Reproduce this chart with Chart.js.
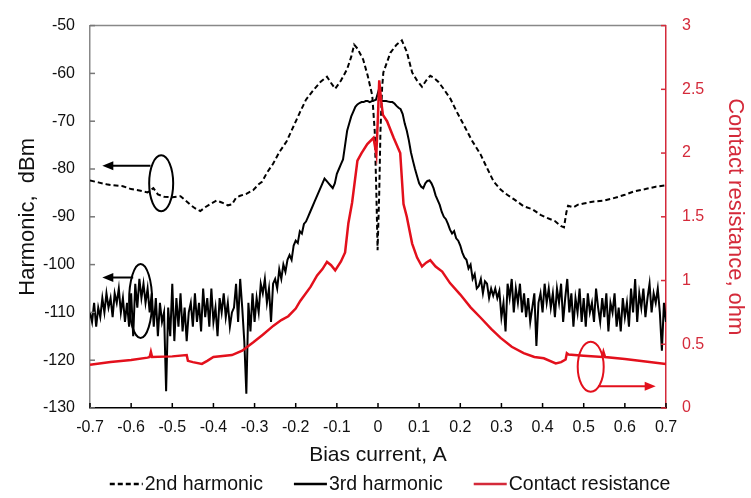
<!DOCTYPE html>
<html>
<head>
<meta charset="utf-8">
<script src="https://cdn.jsdelivr.net/npm/chart.js@4/dist/chart.umd.min.js"></script>
<style>
    html, body { margin: 0; padding: 0; background: #fff; }
    #caja { width: 751px; height: 498px; }
</style>
</head>
<body>
<div id="caja"><canvas id="grafico" width="751" height="498"></canvas></div>
<script>
// ---- DATOS ----
const ticksX = [-0.7, -0.6, -0.5, -0.4, -0.3, -0.2, -0.1, 0, 0.1, 0.2, 0.3, 0.4, 0.5, 0.6, 0.7];
const ticksHarm = [-130, -120, -110, -100, -90, -80, -70, -60, -50];
const ticksRes = [0, 0.5, 1, 1.5, 2, 2.5, 3];

const nombres = ['2nd harmonic', '3rd harmonic', 'Contact resistance'];

// 2o armonico (discontinuo)
const x2 = [-0.70, -0.68, -0.66, -0.644, -0.62, -0.60, -0.58, -0.56, -0.546, -0.535, -0.52, -0.50, -0.48, -0.465,
    -0.456, -0.445, -0.432, -0.42, -0.405, -0.392, -0.38, -0.365, -0.355, -0.345, -0.335, -0.32, -0.303, -0.29,
    -0.282, -0.27, -0.255, -0.24, -0.222, -0.205, -0.189, -0.175, -0.157, -0.14, -0.124, -0.114, -0.104, -0.09,
    -0.075, -0.065, -0.058, -0.05, -0.036, -0.025, -0.014, -0.008, -0.004, -0.001, 0.003, 0.006, 0.01, 0.013,
    0.03, 0.045, 0.058, 0.07, 0.083, 0.095, 0.107, 0.117, 0.127, 0.137, 0.147, 0.16, 0.176, 0.19, 0.208, 0.228,
    0.249, 0.265, 0.281, 0.298, 0.314, 0.33, 0.354, 0.375, 0.395, 0.41, 0.43, 0.444, 0.452, 0.458, 0.462, 0.475,
    0.485, 0.50, 0.525, 0.55, 0.573, 0.60, 0.622, 0.65, 0.675, 0.70];
const y2 = [-82.4, -82.8, -83.2, -83.4, -83.6, -84.2, -84.5, -84.9, -84.0, -85.3, -85.8, -85.9, -85.7, -86.8,
    -87.5, -88.2, -88.8, -88.0, -87.2, -86.6, -87.0, -87.6, -87.4, -86.0, -85.6, -85.2, -84.4, -83.2,
    -82.7, -80.8, -78.9, -76.5, -74.2, -71.0, -68.0, -65.5, -63.5, -61.8, -60.7, -62.0, -63.2, -61.5,
    -59.1, -56.5, -54.0, -54.8, -57.1, -60.5, -64.6, -72, -85, -97, -85, -72, -63, -59.8,
    -55.7, -54.0, -53.1, -55.5, -59.8, -61.5, -62.8, -61.5, -60.5, -61.0, -61.8, -63.3, -65.3, -67.8, -70.7, -74.0,
    -76.9, -79.8, -82.6, -84.3, -85.4, -86.3, -87.8, -88.4, -89.6, -90.2, -90.9, -91.9, -92.2, -89.0, -87.7, -88.0,
    -87.5, -87.2, -86.8, -86.6, -86.1, -85.4, -84.7, -84.2, -83.7, -83.4];

// 3er armonico: barrido de -0.7 A con paso de 5 mA
const inicio3 = -0.7;
const paso3 = 0.005;
const y3 = [
    -110, -112, -108, -113, -109, -111, -107, -110, -106, -109,
    -107, -111, -106, -108, -105, -110, -107, -112, -108, -113,
    -106, -115, -104, -109, -103, -107, -104, -108, -105, -110,
    -106, -113, -107, -115, -108, -112, -110, -126.5, -109, -115,
    -104, -116, -107, -113, -106, -114, -109, -116, -110, -108,
    -113, -106, -112, -108, -114, -105, -111, -107, -113, -105,
    -112, -109, -115, -107, -110, -106, -111, -108, -113, -110,
    -109, -104, -112, -103, -109, -116, -127, -108, -114, -106,
    -112, -107, -110, -104, -106, -103, -108, -105, -112, -104,
    -103, -105, -101, -103, -100, -101.5, -99, -98, -99, -96,
    -95, -95.5, -93, -93.5, -91.5, -91, -90, -89, -88, -87,
    -86, -85, -84, -83, -82, -82.5, -83, -83.5, -84, -83,
    -81, -80, -79, -78, -75, -72, -70.5, -69, -68, -67,
    -66.5, -66.2, -66, -66, -65.8, -65.8, -66, -65.8, -65.7, -65.5,
    -64, -65.5, -65.8, -65.8, -65.8, -65.9, -66, -66, -66.3, -66.8,
    -67.2, -67.5, -68.5, -70.5, -72, -74, -76.5, -78.3, -80, -81.5,
    -83, -83.7, -84, -83, -82.5, -82.4, -83, -84, -85.5, -86.5,
    -87.5, -89, -90, -90.5, -91.5, -92.7, -93.5, -93, -94.5, -95,
    -96, -97.5, -98.5, -99, -100.8, -100, -103, -102, -105, -104.5,
    -103, -106, -103.5, -104, -107, -105, -106.5, -105, -107, -105.5,
    -111, -108, -114, -104, -107, -103, -110, -105, -108, -104,
    -110, -106, -111, -107, -112, -109, -106, -117, -108, -106,
    -110, -104, -108, -105, -109, -106, -111, -105, -108, -104,
    -112, -107, -103, -110, -106, -113, -107, -110, -105, -112,
    -107, -113, -106, -110, -108, -112, -105, -109, -112, -107,
    -111, -106, -114, -108, -110, -106, -113, -109, -114, -107,
    -111, -108, -113, -105, -110, -103, -112, -106, -109, -105,
    -111, -107, -104, -110, -106, -108, -105, -110, -118, -108,
    -112
];

// resistencia de contacto (eje derecho, ohm)
const xR = [-0.70, -0.65, -0.60, -0.56, -0.555, -0.552, -0.549, -0.50, -0.465, -0.462, -0.45, -0.428, -0.415, -0.40,
    -0.355, -0.33, -0.303, -0.28, -0.254, -0.235, -0.218, -0.2, -0.189, -0.164, -0.148, -0.135, -0.124, -0.114,
    -0.104, -0.09, -0.08, -0.072, -0.063, -0.05, -0.04, -0.026, -0.011, -0.004, 0.0, 0.003, 0.008, 0.012, 0.022,
    0.038, 0.054, 0.062, 0.07, 0.083, 0.095, 0.107, 0.117, 0.127, 0.14, 0.156, 0.175, 0.2, 0.225, 0.249, 0.275,
    0.298, 0.325, 0.354, 0.38, 0.403, 0.432, 0.445, 0.456, 0.459, 0.463, 0.50, 0.545, 0.548, 0.552, 0.60, 0.65, 0.70];
const yR = [0.34, 0.36, 0.377, 0.395, 0.40, 0.44, 0.40, 0.405, 0.415, 0.37, 0.36, 0.346, 0.37, 0.40,
    0.415, 0.45, 0.516, 0.575, 0.646, 0.69, 0.72, 0.78, 0.84, 0.95, 1.04, 1.09, 1.146, 1.12,
    1.08, 1.15, 1.22, 1.45, 1.61, 1.94, 2.0, 2.07, 2.12, 1.99, 2.3, 2.57, 2.4, 2.3, 2.25,
    2.12, 2.0, 1.6, 1.5, 1.29, 1.18, 1.11, 1.14, 1.16, 1.11, 1.07, 0.98, 0.89, 0.79, 0.71, 0.62,
    0.55, 0.48, 0.43, 0.40, 0.39, 0.35, 0.36, 0.38, 0.43, 0.42, 0.41, 0.40, 0.44, 0.40, 0.385, 0.365, 0.345];

const rojo = '#e3101c';
const rojoEje = '#d42a3a';
const fuente = "'Liberation Sans', Arial, sans-serif";

function puntos(xs, ys) {
    return ys.map((v, i) => ({ x: xs[i], y: v }));
}
const puntos3 = y3.map((v, i) => ({ x: inicio3 + i * paso3, y: v }));

// elipses y flechas de las anotaciones (en unidades de datos)
const elipses = [
    { x: -0.527, y: -83.0, rx: 12, ry: 28, eje: 'y', color: '#000', flechaY: -79.3, desde: -0.553, hasta: -0.67 },
    { x: -0.577, y: -107.6, rx: 11.5, ry: 37, eje: 'y', color: '#000', flechaY: -102.7, desde: -0.595, hasta: -0.67 },
    { x: 0.517, y: 0.323, rx: 13, ry: 25, eje: 'y1', color: rojo, flechaY: 0.17, desde: 0.535, hasta: 0.675 }
];

// ticks hacia dentro, marco superior, anotaciones y leyenda
const extras = {
    id: 'extras',
    afterDatasetsDraw(chart) {
        const c = chart.ctx;
        const a = chart.chartArea;
        const sx = chart.scales.x, sy = chart.scales.y, sr = chart.scales.y1;
        c.save();
        c.lineWidth = 1.5;
        // marco de arriba
        c.strokeStyle = '#888';
        c.beginPath(); c.moveTo(a.left, a.top); c.lineTo(a.right, a.top); c.stroke();
        // ticks
        c.strokeStyle = '#000';
        ticksX.forEach(v => {
            const px = sx.getPixelForValue(v);
            c.beginPath(); c.moveTo(px, a.bottom); c.lineTo(px, a.bottom - 5); c.stroke();
        });
        c.strokeStyle = '#777';
        ticksHarm.forEach(v => {
            const py = sy.getPixelForValue(v);
            c.beginPath(); c.moveTo(a.left, py); c.lineTo(a.left + 5, py); c.stroke();
        });
        c.strokeStyle = rojoEje;
        ticksRes.forEach(v => {
            const py = sr.getPixelForValue(v);
            c.beginPath(); c.moveTo(a.right, py); c.lineTo(a.right - 5, py); c.stroke();
        });
        // anotaciones
        c.lineWidth = 2;
        elipses.forEach(e => {
            const esc = chart.scales[e.eje];
            const cx = sx.getPixelForValue(e.x), cy = esc.getPixelForValue(e.y);
            c.strokeStyle = e.color; c.fillStyle = e.color;
            c.beginPath(); c.ellipse(cx, cy, e.rx, e.ry, 0, 0, Math.PI * 2); c.stroke();
            const fy = esc.getPixelForValue(e.flechaY);
            const x1 = sx.getPixelForValue(e.desde), x2p = sx.getPixelForValue(e.hasta);
            const dir = x2p < x1 ? -1 : 1;
            c.beginPath(); c.moveTo(x1, fy); c.lineTo(x2p - dir * 8, fy); c.stroke();
            c.beginPath();
            c.moveTo(x2p, fy); c.lineTo(x2p - dir * 11, fy - 4.5); c.lineTo(x2p - dir * 11, fy + 4.5);
            c.closePath(); c.fill();
        });
        c.restore();
    },
    afterDraw(chart) {
        const c = chart.ctx;
        c.save();
        c.font = '19.5px ' + fuente;
        c.textBaseline = 'middle';
        const muestra = 33, hueco = 2, separa = 31, centro = 390, yl = 484;
        const anchos = chart.data.datasets.map(d => muestra + hueco + c.measureText(d.label).width);
        const total = anchos.reduce((s, w) => s + w, 0) + separa * (anchos.length - 1);
        let x = centro - total / 2;
        chart.data.datasets.forEach((d, i) => {
            c.strokeStyle = d.borderColor === rojo ? rojoEje : d.borderColor;
            c.lineWidth = 2.5;
            c.setLineDash(d.borderDash || []);
            c.beginPath(); c.moveTo(x, yl); c.lineTo(x + muestra, yl); c.stroke();
            c.setLineDash([]);
            c.fillStyle = '#111';
            c.fillText(d.label, x + muestra + hueco, yl + 1);
            x += anchos[i] + separa;
        });
        c.restore();
    }
};

document.addEventListener('DOMContentLoaded', () => {
    const ctx = document.getElementById('grafico').getContext('2d');

    new Chart(ctx, {
        type: 'line',
        data: {
            datasets: [{
                label: nombres[0],
                data: puntos(x2, y2),
                yAxisID: 'y',
                borderColor: '#000',
                borderWidth: 2,
                borderDash: [5, 3],
                pointRadius: 0,
                order: 2
            }, {
                label: nombres[1],
                data: puntos3,
                yAxisID: 'y',
                borderColor: '#000',
                borderWidth: 2,
                pointRadius: 0,
                order: 1
            }, {
                label: nombres[2],
                data: puntos(xR, yR),
                yAxisID: 'y1',
                borderColor: rojo,
                borderWidth: 2.5,
                pointRadius: 0,
                order: 0
            }]
        },
        options: {
            responsive: false,
            devicePixelRatio: 1,
            animation: false,
            layout: { padding: { top: 19, left: 0, right: 0, bottom: 30 } },
            plugins: { legend: { display: false }, tooltip: { enabled: false } },
            scales: {
                x: {
                    type: 'linear',
                    min: -0.7, max: 0.7,
                    afterBuildTicks: s => { s.ticks = ticksX.map(v => ({ value: v })); },
                    afterFit: s => { s.height = 60; },
                    grid: { display: false, drawTicks: false },
                    border: { display: true, color: '#000', width: 1.5 },
                    ticks: {
                        padding: 10,
                        color: '#111',
                        font: { family: fuente, size: 16 },
                        callback: v => String(Math.round(v * 10) / 10)
                    },
                    title: {
                        display: true, text: 'Bias current, A', color: '#111',
                        font: { family: fuente, size: 21 }, padding: { top: 0, bottom: 0 }
                    }
                },
                y: {
                    position: 'left',
                    min: -130, max: -50,
                    afterBuildTicks: s => { s.ticks = ticksHarm.map(v => ({ value: v })); },
                    afterFit: s => { s.width = 90; },
                    grid: { display: false, drawTicks: false },
                    border: { display: true, color: '#888', width: 1.5 },
                    ticks: {
                        padding: 15,
                        color: '#111',
                        font: { family: fuente, size: 16 },
                        callback: v => String(v)
                    },
                    title: {
                        display: true, text: 'Harmonic,  dBm', color: '#111',
                        font: { family: fuente, size: 22 }, padding: { top: 15, bottom: 0 }
                    }
                },
                y1: {
                    position: 'right',
                    min: 0, max: 3,
                    afterBuildTicks: s => { s.ticks = ticksRes.map(v => ({ value: v })); },
                    afterFit: s => { s.width = 85; },
                    grid: { display: false, drawTicks: false },
                    border: { display: true, color: rojoEje, width: 1.5 },
                    ticks: {
                        padding: 16,
                        color: rojoEje,
                        font: { family: fuente, size: 16 },
                        callback: v => String(v)
                    },
                    title: {
                        display: true, text: 'Contact resistance, ohm', color: rojoEje,
                        font: { family: fuente, size: 22 }, padding: { top: 3, bottom: 0 }
                    }
                }
            }
        },
        plugins: [extras]
    });
});
</script>
</body>
</html>
